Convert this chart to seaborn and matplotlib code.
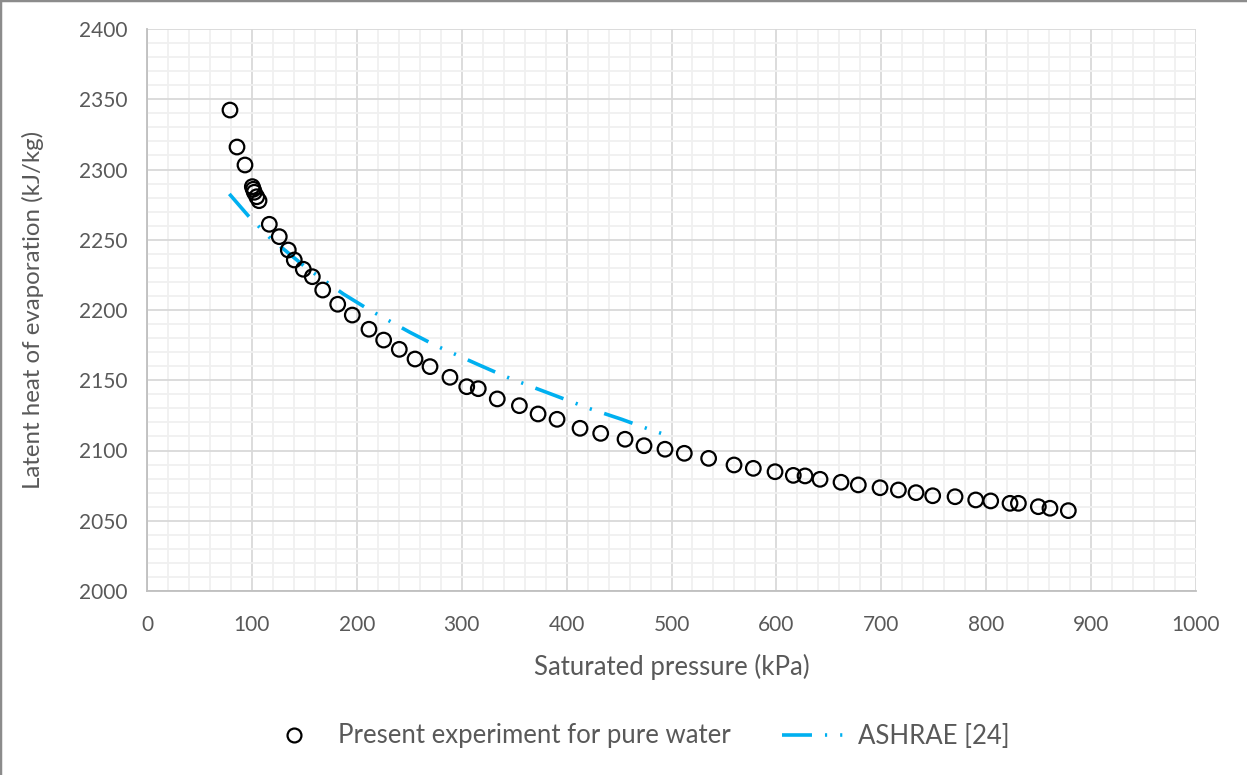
import matplotlib
matplotlib.use("Agg")
import matplotlib.pyplot as plt
import seaborn as sns
import pandas as pd
from matplotlib.lines import Line2D
from matplotlib.ticker import MultipleLocator

exp_pressure = [79.1, 85.8, 93.4, 100.4, 101.3, 102.3, 104.6, 106.8, 116.6, 126.1,
                134.7, 140.4, 149.0, 157.6, 167.5, 181.8, 195.7, 211.6, 225.6, 240.5,
                255.5, 269.8, 288.8, 304.8, 315.8, 333.9, 355.0, 372.8, 390.9, 412.8,
                432.5, 455.7, 473.8, 493.8, 512.2, 535.4, 559.6, 578.0, 598.7, 616.1,
                627.3, 641.6, 661.6, 678.1, 698.8, 716.3, 733.1, 749.0, 770.3, 790.0,
                804.3, 822.7, 830.7, 849.7, 860.8, 878.3]
exp_latent = [2342.3, 2316.0, 2303.2, 2287.8, 2285.9, 2283.8, 2280.6, 2277.8, 2261.0, 2252.2,
              2242.7, 2235.6, 2229.0, 2223.7, 2214.2, 2204.1, 2196.4, 2186.3, 2178.6, 2172.0,
              2165.1, 2159.7, 2152.1, 2145.4, 2144.0, 2136.7, 2131.9, 2126.0, 2122.2, 2115.8,
              2112.2, 2108.0, 2103.4, 2100.9, 2098.0, 2094.4, 2089.7, 2087.3, 2084.9, 2082.3,
              2081.9, 2079.5, 2077.4, 2075.5, 2073.5, 2071.9, 2070.0, 2067.8, 2067.1, 2064.8,
              2064.1, 2062.4, 2062.4, 2060.0, 2058.9, 2057.2]

# ASHRAE reference curve
ash_pressure = [78.5, 96.6, 117.3, 150.6, 187.2, 211.0, 250.7, 275.5, 316.5, 342.2,
                370.6, 423.9, 452.5, 478.8, 493.0]
ash_latent = [2282.6, 2267.0, 2251.3, 2230.8, 2211.4, 2200.5, 2184.1, 2174.6, 2160.9, 2152.5,
              2144.3, 2129.3, 2122.2, 2115.1, 2111.5]

exp_df = pd.DataFrame({"p": exp_pressure, "h": exp_latent})
ash_df = pd.DataFrame({"p": ash_pressure, "h": ash_latent})

sns.set_style("white")
plt.rcParams['font.family'] = ['Lato', 'DejaVu Sans']

TXT = "#595959"
BLUE = "#00B0F0"

fig = plt.figure(figsize=(12.47, 7.75), dpi=100)
ax = fig.add_axes([147/1247, 1-591/775, (1196-147)/1247, (591-29)/775])

# grid
ax.set_xlim(0, 1000)
ax.set_ylim(2000, 2400)
ax.xaxis.set_major_locator(MultipleLocator(100))
ax.xaxis.set_minor_locator(MultipleLocator(20))
ax.yaxis.set_major_locator(MultipleLocator(50))
ax.yaxis.set_minor_locator(MultipleLocator(10))
ax.grid(which='minor', color='#F0F0F0', linewidth=1.3, zorder=0)
ax.grid(which='major', color='#D9D9D9', linewidth=1.3, zorder=0)
ax.set_axisbelow(True)

DASH = (0, (8.3, 3.6, 0.6, 3.6, 0.6, 3.6))
sns.lineplot(data=ash_df, x="p", y="h", ax=ax, color=BLUE, linewidth=2.6,
             sort=False, zorder=3)
ax.lines[-1].set_linestyle(DASH)
sns.scatterplot(data=exp_df, x="p", y="h", ax=ax, s=110, facecolor='none',
                edgecolor='black', linewidth=1.6, zorder=4)

for side in ['top', 'right']:
    ax.spines[side].set_visible(False)
for side in ['left', 'bottom']:
    ax.spines[side].set_color('#BFBFBF')
    ax.spines[side].set_linewidth(1.3)

ax.tick_params(axis='both', which='major', direction='out', length=6, width=1.3,
               color='#BFBFBF', labelcolor=TXT, labelsize=15)
ax.tick_params(axis='y', which='major', pad=8)
ax.tick_params(axis='x', which='major', pad=11)
ax.tick_params(axis='both', which='minor', length=0)
ax.set_xticks(range(0, 1001, 100))
ax.set_yticks(range(2000, 2401, 50))

ax.set_xlabel("Saturated pressure (kPa)", fontsize=18.5, color=TXT, labelpad=14)
ax.set_ylabel("Latent heat of evaporation (kJ/kg)", fontsize=17.3, color=TXT, labelpad=25)

handles = [
    Line2D([], [], linestyle='none', marker='o', markersize=10, markerfacecolor='none',
           markeredgecolor='black', markeredgewidth=1.6),
    Line2D([], [], color=BLUE, linewidth=2.6, linestyle=DASH),
]
fig.legend(handles, ["Present experiment for pure water", "ASHRAE [24]"],
           loc='center', bbox_to_anchor=(636/1247, 1-736/775), ncol=2, frameon=False,
           fontsize=18.5, labelcolor=TXT, handlelength=2.5, columnspacing=2.0,
           handletextpad=0.45)

# outer frame (top & left edges visible)
fig.add_artist(Line2D([0, 1], [1, 1], transform=fig.transFigure, color='#8C8C8C', linewidth=2.5))
fig.add_artist(Line2D([0, 0], [0, 1], transform=fig.transFigure, color='#8C8C8C', linewidth=2.5))

fig.savefig("out.png", dpi=100)
